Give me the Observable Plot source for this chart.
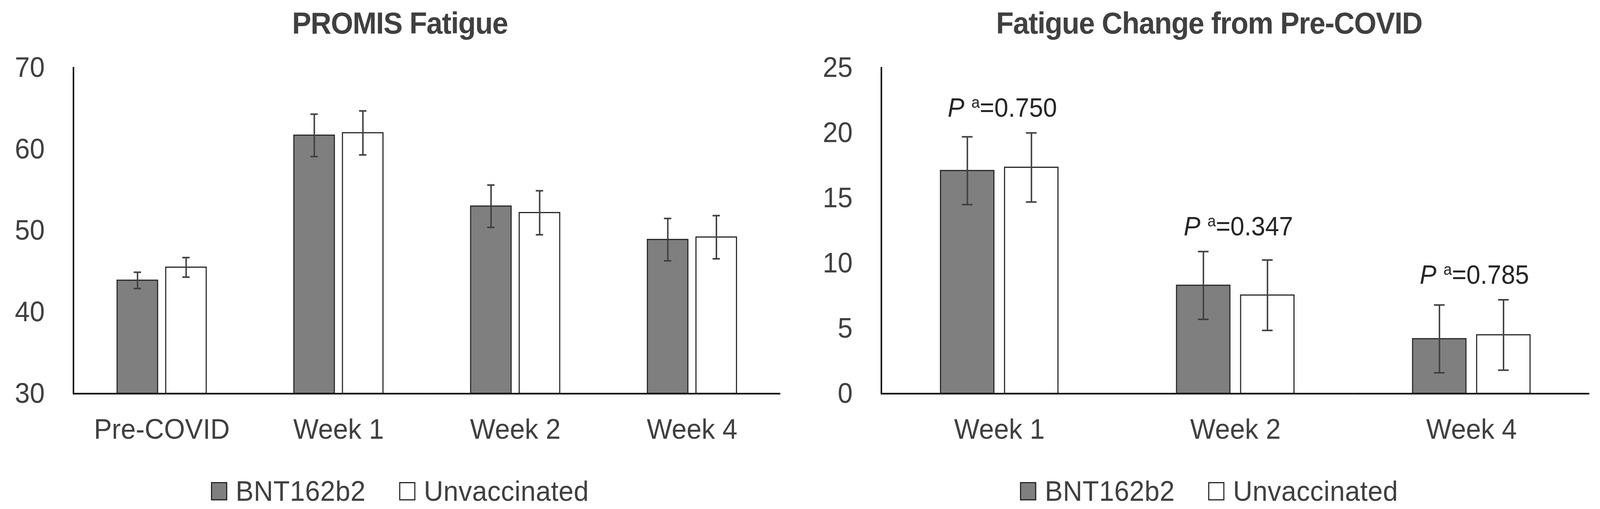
<!DOCTYPE html>
<html>
<head>
<meta charset="utf-8">
<script src="https://cdn.jsdelivr.net/npm/d3@7"></script>
<script src="https://cdn.jsdelivr.net/npm/@observablehq/plot@0.6"></script>
<style>
  html, body { margin: 0; padding: 0; background: #ffffff; overflow: hidden; }
  body { font-family: "Liberation Sans", Arial, sans-serif; color: #404040; }
  #wrap { display: flex; flex-direction: row; width: 4345px; height: 1304px; transform-origin: 0 0; }
  .panel { position: relative; }
  .title { height: 110px; line-height: 118px; font-size: 78px; font-weight: bold; letter-spacing: -1.5px; text-align: center; color: #404040; white-space: nowrap; }
  .legend { height: 144px; box-sizing: border-box; padding-top: 52px; display: flex; justify-content: center; align-items: center; font-size: 73px; letter-spacing: 0.5px; line-height: 70px; color: #404040; white-space: nowrap; }
  .legend .item { display: flex; align-items: center; }
  .legend .item + .item { margin-left: 91px; }
  .legend .sw { display: inline-block; width: 44px; height: 47px; box-sizing: border-box; border: 3px solid #262626; margin-right: 23px; }
  svg { display: block; }
</style>
</head>
<body>
<div id="wrap"></div>
<script>
// ---------- data ----------
const seriesNames = ["BNT162b2", "Unvaccinated"];
const seriesColors = ["#7f7f7f", "#ffffff"];

const fatigueCategories = ["Pre-COVID", "Week 1", "Week 2", "Week 4"];
const fatigueBNT = [43.9, 61.7, 53.0, 48.9];
const fatigueBNTErr = [1.0, 2.6, 2.6, 2.6];
const fatigueUnvac = [45.5, 62.0, 52.2, 49.2];
const fatigueUnvacErr = [1.2, 2.7, 2.7, 2.65];
const fatigueTicks = [30, 40, 50, 60, 70];

const changeCategories = ["Week 1", "Week 2", "Week 4"];
const changeBNT = [17.1, 8.3, 4.2];
const changeBNTErr = [2.6, 2.6, 2.6];
const changeUnvac = [17.35, 7.55, 4.5];
const changeUnvacErr = [2.65, 2.7, 2.7];
const changeTicks = [0, 5, 10, 15, 20, 25];
const changePValues = ["0.750", "0.347", "0.785"];

// ---------- helpers ----------
function makeRows(cats, bnt, bntErr, unv, unvErr) {
  return cats.flatMap((c, i) => [
    {cat: c, series: seriesNames[0], value: bnt[i], err: bntErr[i]},
    {cat: c, series: seriesNames[1], value: unv[i], err: unvErr[i]}
  ]);
}

function panel(opts) {
  const {title, cats, rows, ticks, width, marginLeft, marginRight, capInset, pRows, shift, padOuter} = opts;
  const div = document.createElement("div");
  div.className = "panel";
  div.style.width = width + "px";

  const t = document.createElement("div");
  t.className = "title";
  t.textContent = title;
  if (shift) t.style.paddingLeft = shift + "px";
  div.appendChild(t);

  const y0 = ticks[0], y1 = ticks[ticks.length - 1];
  const marks = [
    Plot.barY(rows, {fx: "cat", x: "series", y1: y0, y2: "value", fill: "series", stroke: "#262626", strokeWidth: 3}),
    Plot.ruleX(rows, {fx: "cat", x: "series", y1: d => d.value - d.err, y2: d => d.value + d.err, stroke: "#404040", strokeWidth: 4}),
    Plot.tickY(rows, {fx: "cat", x: "series", y: d => d.value + d.err, stroke: "#404040", strokeWidth: 4, inset: capInset}),
    Plot.tickY(rows, {fx: "cat", x: "series", y: d => d.value - d.err, stroke: "#404040", strokeWidth: 4, inset: capInset}),
    Plot.ruleY([y0], {stroke: "#000000", strokeWidth: 4}),
    Plot.frame({anchor: "left", facetAnchor: "left", stroke: "#000000", strokeWidth: 4}),
    Plot.axisY({ticks: ticks, tickSize: 0, tickPadding: 78, fontSize: 73, label: null, tickFormat: d => String(d), fill: "#404040"}),
    Plot.axisFx({anchor: "bottom", tickSize: 0, tickPadding: 64, fontSize: 73, label: null, fill: "#404040"})
  ];
  if (pRows) {
    marks.push(Plot.text(pRows, {fx: "cat", y: "top", text: d => "P a=" + d.p, dy: -63, dx: 8, fontSize: 68, lineAnchor: "middle", fill: "#262626"}));
  }
  const chart = Plot.plot({
    width: width,
    height: 1050,
    marginTop: 63,
    marginBottom: 152,
    marginLeft: marginLeft,
    marginRight: marginRight,
    style: {fontFamily: "'Liberation Sans', Arial, sans-serif", color: "#404040", background: "#ffffff", overflow: "visible", maxWidth: "none"},
    fx: {domain: cats, padding: 0, label: null},
    x: {domain: seriesNames, paddingInner: 0.165, paddingOuter: padOuter, axis: null},
    y: {domain: [y0, y1], axis: null},
    color: {domain: seriesNames, range: seriesColors},
    marks: marks
  });
  // rich formatting of the P labels: italic P, superscript a
  chart.querySelectorAll("text").forEach(el => {
    const s = el.textContent;
    if (s.startsWith("P a=")) {
      const rest = s.slice(3);
      el.textContent = "";
      const ns = "http://www.w3.org/2000/svg";
      const p = document.createElementNS(ns, "tspan");
      p.setAttribute("font-style", "italic");
      p.textContent = "P";
      const sp = document.createElementNS(ns, "tspan");
      sp.textContent = "\u00a0";
      const a = document.createElementNS(ns, "tspan");
      a.setAttribute("font-size", "41");
      a.setAttribute("dy", "-23");
      a.textContent = "a";
      const r = document.createElementNS(ns, "tspan");
      r.setAttribute("dy", "23");
      r.textContent = rest;
      el.append(p, sp, a, r);
    }
  });
  div.appendChild(chart);

  const lg = document.createElement("div");
  lg.className = "legend";
  if (shift) lg.style.paddingLeft = shift + "px";
  seriesNames.forEach((n, i) => {
    const it = document.createElement("span");
    it.className = "item";
    const sw = document.createElement("span");
    sw.className = "sw";
    sw.style.background = seriesColors[i];
    const tx = document.createElement("span");
    tx.textContent = n;
    it.append(sw, tx);
    lg.appendChild(it);
  });
  div.appendChild(lg);
  return div;
}

const wrap = document.getElementById("wrap");

const fatigueRows = makeRows(fatigueCategories, fatigueBNT, fatigueBNTErr, fatigueUnvac, fatigueUnvacErr);
wrap.appendChild(panel({
  title: "PROMIS Fatigue",
  cats: fatigueCategories,
  rows: fatigueRows,
  ticks: fatigueTicks,
  width: 2172,
  marginLeft: 198,
  marginRight: 52,
  capInset: 45,
  padOuter: 0.89
}));

const changeRows = makeRows(changeCategories, changeBNT, changeBNTErr, changeUnvac, changeUnvacErr);
const changePRows = changeCategories.map((c, i) => ({
  cat: c,
  p: changePValues[i],
  top: Math.max(changeBNT[i] + changeBNTErr[i], changeUnvac[i] + changeUnvacErr[i])
}));
wrap.appendChild(panel({
  title: "Fatigue Change from Pre-COVID",
  cats: changeCategories,
  rows: changeRows,
  ticks: changeTicks,
  width: 2173,
  marginLeft: 221,
  marginRight: 29,
  capInset: 58,
  pRows: changePRows,
  shift: 50,
  padOuter: 0.917
}));

// fit the 4345-wide layout into the actual viewport (the browser may cap its width)
function fit() {
  const kx = Math.min(1, window.innerWidth / 4345);
  const ky = Math.min(1, window.innerHeight / 1304);
  wrap.style.transform = "scale(" + kx + "," + ky + ")";
}
fit();
window.addEventListener("resize", fit);
</script>
</body>
</html>
